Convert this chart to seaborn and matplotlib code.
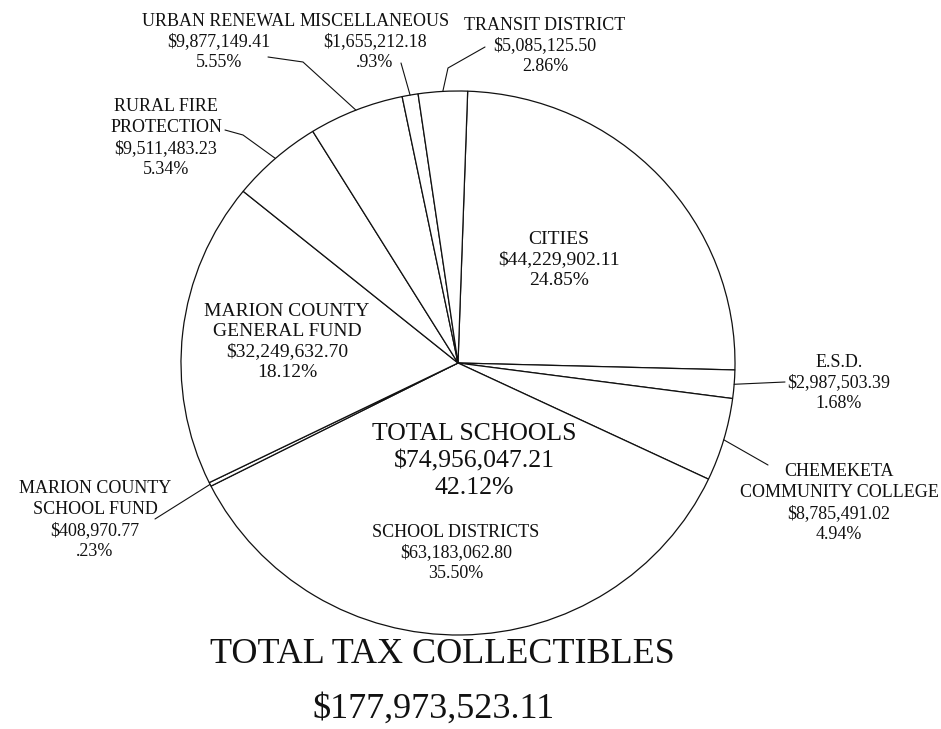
import matplotlib
matplotlib.use("Agg")
import numpy as np
import matplotlib.pyplot as plt
import seaborn as sns

# slices, clockwise from 12 o'clock
names = ["CITIES", "E.S.D.", "CHEMEKETA\nCOMMUNITY COLLEGE", "SCHOOL DISTRICTS",
         "MARION COUNTY\nSCHOOL FUND", "MARION COUNTY\nGENERAL FUND",
         "RURAL FIRE\nPROTECTION", "URBAN RENEWAL", "MISCELLANEOUS", "TRANSIT DISTRICT"]
amounts = [44229902.11, 2987503.39, 8785491.02, 63183062.80, 408970.77,
           32249632.70, 9511483.23, 9877149.41, 1655212.18, 5085125.50]
percents = ["24.85%", "1.68%", "4.94%", "35.50%", ".23%",
            "18.12%", "5.34%", "5.55%", ".93%", "2.86%"]

schools_text = ["TOTAL SCHOOLS", "$74,956,047.21", "42.12%"]
total_text = ["TOTAL TAX COLLECTIBLES", "$177,973,523.11"]

# layout in pixels of the 941x729 canvas
CX, CY, RX, RY = 458, 363, 277, 272
label_xy = [(559, 260), (839, 383), (839, 503), (456, 553), (95, 520),
            (287, 342), (166, 138), (219, 42), (375, 42), (545, 46)]
label_size = [14, 13, 13, 13, 13, 14, 13, 13, 13, 13]
leader_pts = [None, [(785, 382)], [(768, 465)], None, [(155, 519)], None,
              [(243, 135), (225, 130)], [(303, 62), (268, 57)], [(401, 63)],
              [(448, 68), (485, 47)]]


def px(x, y):
    return (x - CX) / RX, (CY - y) / RY


sns.set_theme(style="white")
plt.rcParams['font.family'] = ['Liberation Serif', 'DejaVu Serif']
ink = "#111111"

fig = plt.figure(figsize=(9.41, 7.29), dpi=100)
ax = fig.add_axes([0, 0, 1, 1])

wedges, _ = ax.pie(amounts, startangle=88, counterclock=False,
                   colors=["white"] * len(amounts),
                   wedgeprops=dict(edgecolor=ink, linewidth=0.9))
ax.set_aspect("auto")
ax.set_xlim(px(0, 0)[0], px(941, 0)[0])
ax.set_ylim(px(0, 729)[1], px(0, 0)[1])
ax.axis("off")

for w, name, amt, pct, xy, fs, lead in zip(wedges, names, amounts, percents,
                                           label_xy, label_size, leader_pts):
    tx, ty = px(*xy)
    ax.text(tx, ty, f"{name}\n${amt:,.2f}\n{pct}", ha="center", va="center",
            ma="center", fontsize=fs, color=ink,
            linespacing=1.24 if fs == 14 else 1.3)
    if lead:
        mid = np.deg2rad((w.theta1 + w.theta2) / 2)
        xs = [np.cos(mid)] + [px(*p)[0] for p in lead]
        ys = [np.sin(mid)] + [px(*p)[1] for p in lead]
        ax.plot(xs, ys, color=ink, lw=0.8)

ax.text(*px(474, 461), "\n".join(schools_text), ha="center", va="center",
        ma="center", fontsize=18.5, color=ink, linespacing=1.3)

ax.text(*px(442, 663), total_text[0], ha="center", va="baseline",
        fontsize=26, color=ink)
ax.text(*px(433, 718), total_text[1], ha="center", va="baseline",
        fontsize=26, color=ink)

fig.savefig("out.png", dpi=100, facecolor="white")
